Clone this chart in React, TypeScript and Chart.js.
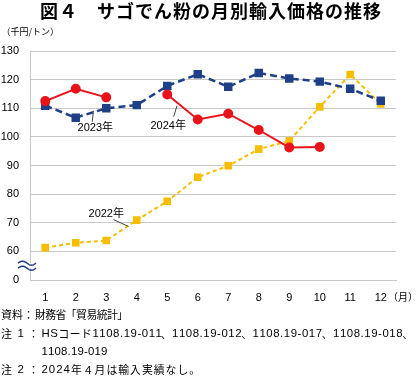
import { useEffect, useRef } from 'react';
import { Chart, registerables } from 'chart.js';

Chart.register(...registerables);

const months = ['1', '2', '3', '4', '5', '6', '7', '8', '9', '10', '11', '12'];
const prices2022 = [61.3, 63.0, 63.8, 70.9, 77.5, 85.9, 89.9, 95.7, 98.6, 110.5, 121.8, 111.5];
const prices2023 = [110.9, 106.7, 110.0, 111.1, 117.8, 121.9, 117.5, 122.3, 120.4, 119.3, 116.8, 112.6];
const prices2024 = [112.5, 116.8, 113.8, null, 114.8, 106.1, 108.1, 102.4, 96.3, 96.5, null, null];

const yMin = 50;
const yMax = 130;
const yStep = 10;
const brokenTickLabel = '0';

const titleText = '図４　サゴでん粉の月別輸入価格の推移';
const yUnitText = '（千円/トン）';
const xUnitText = '（月）';

const seriesLabels = ['2022年', '2023年', '2024年'];
// label annotations in data units: [category index, value] of text centre, leader start, leader end
const labelAnchors = [
  { text: '2022年', at: [2.0, 73.2], from: [2.24, 71.1], to: [2.73, 68.7] },
  { text: '2023年', at: [1.64, 103.0], from: [1.54, 105.3], to: [1.58, 109.1] },
  { text: '2024年', at: [4.03, 103.9], from: [4.21, 107.0], to: [4.32, 110.9] },
];

const footerHeads = ['資料', '注1', '', '注2'];
const footerBodies = [
  '財務省「貿易統計」',
  'HSコード1108.19-011、1108.19-012、1108.19-017、1108.19-018、',
  '1108.19-019',
  '2024年４月は輸入実績なし。',
];

const FONT = '"Liberation Sans", "Noto Sans CJK JP", sans-serif';
const CJK_FONT = '"Noto Sans CJK JP", sans-serif';

const isCjk = (ch: string) => /[\u3000-\u30ff\u3400-\u9fff\uff00-\uffef]/.test(ch);

function splitRuns(text: string) {
  const runs: { s: string; cjk: boolean }[] = [];
  for (const ch of text) {
    const c = isCjk(ch);
    if (runs.length && runs[runs.length - 1].cjk === c) runs[runs.length - 1].s += ch;
    else runs.push({ s: ch, cjk: c });
  }
  return runs;
}

function drawMixed(
  ctx: CanvasRenderingContext2D, text: string, x: number, y: number,
  cjkSize: number, latinSize: number, targetEnd?: number,
) {
  const runs = splitRuns(text);
  const c: any = ctx;
  c.letterSpacing = '0px';
  let natural = 0;
  let count = 0;
  const widths = runs.map((r) => {
    ctx.font = r.cjk ? `${cjkSize}px ${CJK_FONT}` : `${latinSize}px ${FONT}`;
    const w = ctx.measureText(r.s).width;
    natural += w;
    count += [...r.s].length;
    return w;
  });
  const spacing = targetEnd !== undefined && count > 1 ? (targetEnd - x - natural) / (count - 1) : 0;
  let cx = x;
  runs.forEach((r, i) => {
    ctx.font = r.cjk ? `${cjkSize}px ${CJK_FONT}` : `${latinSize}px ${FONT}`;
    let px = cx;
    for (const ch of r.s) {
      ctx.fillText(ch, px, y);
      px += ctx.measureText(ch).width + spacing;
    }
    cx += widths[i] + spacing * [...r.s].length;
  });
}

const decorPlugin = {
  id: 'decor',
  afterDraw(chart: any) {
    const ctx: CanvasRenderingContext2D = chart.ctx;
    const xs = chart.scales.x;
    const ys = chart.scales.y;
    ctx.save();
    // title
    ctx.fillStyle = '#000';
    ctx.textAlign = 'center';
    ctx.textBaseline = 'middle';
    ctx.font = `bold 18px ${CJK_FONT}`;
    (ctx as any).letterSpacing = '1px';
    ctx.fillText(titleText, 211, 11);
    (ctx as any).letterSpacing = '0px';

    // unit labels
    ctx.textAlign = 'left';
    ctx.font = `9px ${CJK_FONT}`;
    ctx.fillText(yUnitText, 1.5, 32);
    ctx.font = `10px ${CJK_FONT}`;
    ctx.fillText(xUnitText, 388, 297);

    // axis break symbol
    const bx0 = chart.chartArea.left - 12;
    const bx1 = chart.chartArea.left + 6;
    const by = ys.getPixelForValue(yMin + 5);
    ctx.fillStyle = '#fff';
    ctx.fillRect(bx0, by - 2.5, bx1 - bx0, 5);
    ctx.strokeStyle = '#1f3f87';
    ctx.lineWidth = 1.5;
    for (const off of [-2.5, 2.5]) {
      ctx.beginPath();
      for (let i = 0; i <= 24; i++) {
        const t = i / 24;
        const px = bx0 + t * (bx1 - bx0);
        const py = by + off - 2 * Math.sin(t * Math.PI * 2);
        if (i === 0) ctx.moveTo(px, py);
        else ctx.lineTo(px, py);
      }
      ctx.stroke();
    }

    // series labels with leader lines
    ctx.fillStyle = '#000';
    ctx.strokeStyle = '#444';
    ctx.lineWidth = 1;
    ctx.textAlign = 'center';
    ctx.textBaseline = 'middle';
    ctx.font = `11px ${FONT}`;
    for (const a of labelAnchors) {
      ctx.beginPath();
      ctx.moveTo(xs.getPixelForValue(a.from[0]), ys.getPixelForValue(a.from[1]));
      ctx.lineTo(xs.getPixelForValue(a.to[0]), ys.getPixelForValue(a.to[1]));
      ctx.stroke();
      ctx.fillText(a.text, xs.getPixelForValue(a.at[0]), ys.getPixelForValue(a.at[1]));
    }

    // footer
    ctx.textAlign = 'left';
    ctx.textBaseline = 'middle';
    const fy = [315, 334, 351.5, 370];
    const ends = [128, 413, 106.5, 200];
    footerHeads.forEach((h, i) => {
      if (h === '資料') {
        ctx.font = `11px ${CJK_FONT}`;
        ctx.fillText('資料：', 1, fy[i]);
      } else if (h) {
        ctx.font = `11px ${CJK_FONT}`;
        ctx.fillText(h[0], 1, fy[i]);
        ctx.font = `11.5px ${FONT}`;
        ctx.fillText(h.slice(1), 17.5, fy[i]);
        ctx.font = `11px ${CJK_FONT}`;
        ctx.fillText('：', 28, fy[i]);
      }
      const bodyX = h === '資料' ? 35 : 41.5;
      drawMixed(ctx, footerBodies[i], bodyX, fy[i], 10.8, 11.4, ends[i]);
    });
    ctx.restore();
  },
};

export default function App() {
  const ref = useRef<HTMLCanvasElement>(null);
  useEffect(() => {
    if (!ref.current) return;
    const chart = new Chart(ref.current, {
      type: 'line',
      data: {
        labels: months,
        datasets: [
          {
            label: seriesLabels[2],
            data: prices2024,
            borderColor: '#e8141b',
            backgroundColor: '#e8141b',
            borderWidth: 2,
            pointStyle: 'circle',
            pointRadius: 4,
            spanGaps: false,
            order: 1,
          },
          {
            label: seriesLabels[1],
            data: prices2023,
            borderColor: '#1f3f87',
            backgroundColor: '#1f3f87',
            borderWidth: 2.5,
            borderDash: [7, 4],
            pointStyle: 'rect',
            pointRadius: 4.2,
            order: 2,
          },
          {
            label: seriesLabels[0],
            data: prices2022,
            borderColor: '#f5be00',
            backgroundColor: '#f5be00',
            borderWidth: 2,
            borderDash: [4, 3],
            pointStyle: 'rect',
            pointRadius: 4,
            order: 3,
          },
        ],
      },
      options: {
        responsive: false,
        animation: false,
        events: [],
        layout: { padding: { top: 51, right: 24, bottom: 72, left: 0 } },
        plugins: { legend: { display: false }, tooltip: { enabled: false }, title: { display: false } },
        elements: { line: { tension: 0 } },
        scales: {
          x: {
            type: 'category',
            offset: true,
            grid: { display: false, drawTicks: false },
            border: { display: true, color: '#c8c8c8' },
            ticks: { color: '#000', font: { family: FONT, size: 11 }, padding: 11, maxRotation: 0 },
            afterFit: (s: any) => { s.height = 30; },
          },
          y: {
            type: 'linear',
            min: yMin,
            max: yMax,
            grid: { color: '#c8c8c8', lineWidth: 1, drawTicks: false },
            border: { display: true, color: '#c8c8c8' },
            ticks: {
              stepSize: yStep,
              color: '#000',
              font: { family: FONT, size: 11 },
              padding: 11,
              callback: (v: any) => (v === yMin ? brokenTickLabel : String(v)),
            },
            afterFit: (s: any) => { s.width = 30; },
          },
        },
      },
      plugins: [decorPlugin],
    } as any);
    return () => chart.destroy();
  }, []);
  return (
    <div style={{ position: 'absolute', left: 0, top: 0, width: 420, height: 382, background: '#fff' }}>
      <canvas ref={ref} width={420} height={382} />
    </div>
  );
}
